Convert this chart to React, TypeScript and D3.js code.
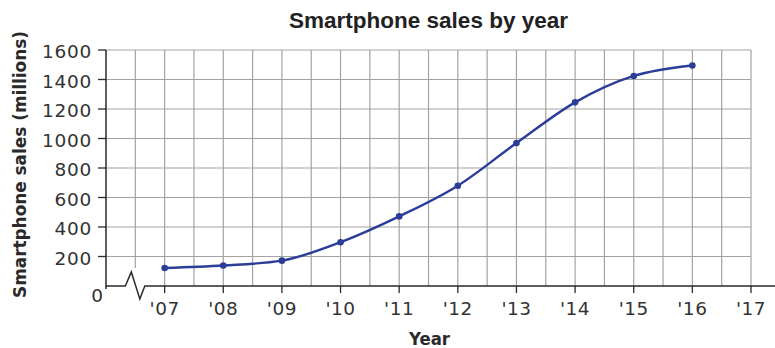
import React from "react";
import * as d3 from "d3";

const years = [2007, 2008, 2009, 2010, 2011, 2012, 2013, 2014, 2015, 2016];
const sales = [122, 139, 172, 297, 472, 680, 969, 1245, 1424, 1495];
const xTickYears = [2007, 2008, 2009, 2010, 2011, 2012, 2013, 2014, 2015, 2016, 2017];
const xTickLabels = ["'07", "'08", "'09", "'10", "'11", "'12", "'13", "'14", "'15", "'16", "'17"];
const yTicks = [200, 400, 600, 800, 1000, 1200, 1400, 1600];

const W = 775;
const H = 348;

export default function App() {
  const x = d3.scaleLinear().domain([2006, 2017]).range([106, 751]);
  const y = d3.scaleLinear().domain([0, 1600]).range([286, 50]);

  const vGrid = d3.range(2006.5, 2017.01, 0.5);
  const line = d3
    .line<number>()
    .x((_, i) => x(years[i]))
    .y((d) => y(d))
    .curve(d3.curveMonotoneX);

  const y0 = y(0);
  const bx = x(2006.5);
  const axisPath = `M${x(2006)},${y0} L${bx - 10},${y0} L${bx - 4},${y0 - 14} L${bx + 4.5},${y0 + 13} L${bx + 9.5},${y0} L${W},${y0}`;

  const lineColor = "#2c3c99";
  const gridColor = "#a3a3a3";
  const axisColor = "#2a2a2a";
  const textColor = "#333";

  return (
    <svg
      width={W}
      height={H}
      style={{ position: "absolute", left: 0, top: 0, background: "#fff" }}
      fontFamily="'DejaVu Sans', sans-serif"
    >
      <text
        x={428.5}
        y={27.5}
        textAnchor="middle"
        fontFamily="'Liberation Sans', Arial, sans-serif"
        fontWeight="bold"
        fontSize={22.5}
        fill="#222"
        textLength={279}
        lengthAdjust="spacingAndGlyphs"
      >
        Smartphone sales by year
      </text>

      {/* horizontal grid */}
      {yTicks.map((t) => (
        <line key={"h" + t} x1={x(2006)} x2={x(2017)} y1={y(t)} y2={y(t)} stroke={gridColor} strokeWidth={1.2} />
      ))}
      {/* vertical grid */}
      {vGrid.map((v) => (
        <line
          key={"v" + v}
          x1={x(v)}
          x2={x(v)}
          y1={y(1600)}
          y2={v === 2006.5 ? y0 - 18 : y0}
          stroke={gridColor}
          strokeWidth={1.2}
        />
      ))}

      {/* axes */}
      <line x1={x(2006)} x2={x(2006)} y1={y(1600)} y2={y0 + 3} stroke={axisColor} strokeWidth={1.5} />
      <path d={axisPath} fill="none" stroke={axisColor} strokeWidth={1.5} />
      {yTicks.map((t) => (
        <line key={"yt" + t} x1={x(2006) - 8} x2={x(2006)} y1={y(t)} y2={y(t)} stroke={axisColor} strokeWidth={1.3} />
      ))}
      {xTickYears.map((t) => (
        <line key={"xt" + t} x1={x(t)} x2={x(t)} y1={y0} y2={y0 + 7} stroke={axisColor} strokeWidth={1.3} />
      ))}

      {/* y labels */}
      {yTicks.map((t) => (
        <text key={"yl" + t} x={92} y={y(t) + 8} textAnchor="end" fontSize={18.5} fill={textColor} letterSpacing={0.7}>
          {t}
        </text>
      ))}
      <text x={103} y={302} textAnchor="end" fontSize={18.5} fill={textColor}>
        0
      </text>

      {/* x labels */}
      {xTickYears.map((t, i) => (
        <text key={"xl" + t} x={x(t)} y={315} textAnchor="middle" fontSize={18.5} fill={textColor} letterSpacing={0.5}>
          {xTickLabels[i]}
        </text>
      ))}

      <text
        x={429.5}
        y={345}
        textAnchor="middle"
        fontSize={17}
        fontWeight="bold"
        fill="#2a2a2a"
        textLength={41}
        lengthAdjust="spacingAndGlyphs"
      >
        Year
      </text>
      <text
        transform={`translate(26,164.5) rotate(-90)`}
        textAnchor="middle"
        fontSize={17}
        fontWeight="bold"
        fill="#2a2a2a"
        textLength={267}
        lengthAdjust="spacingAndGlyphs"
      >
        Smartphone sales (millions)
      </text>

      {/* data line */}
      <path d={line(sales) || ""} fill="none" stroke={lineColor} strokeWidth={2.4} />
      {sales.map((s, i) => (
        <circle key={"p" + i} cx={x(years[i])} cy={y(s)} r={3.3} fill={lineColor} />
      ))}
    </svg>
  );
}
